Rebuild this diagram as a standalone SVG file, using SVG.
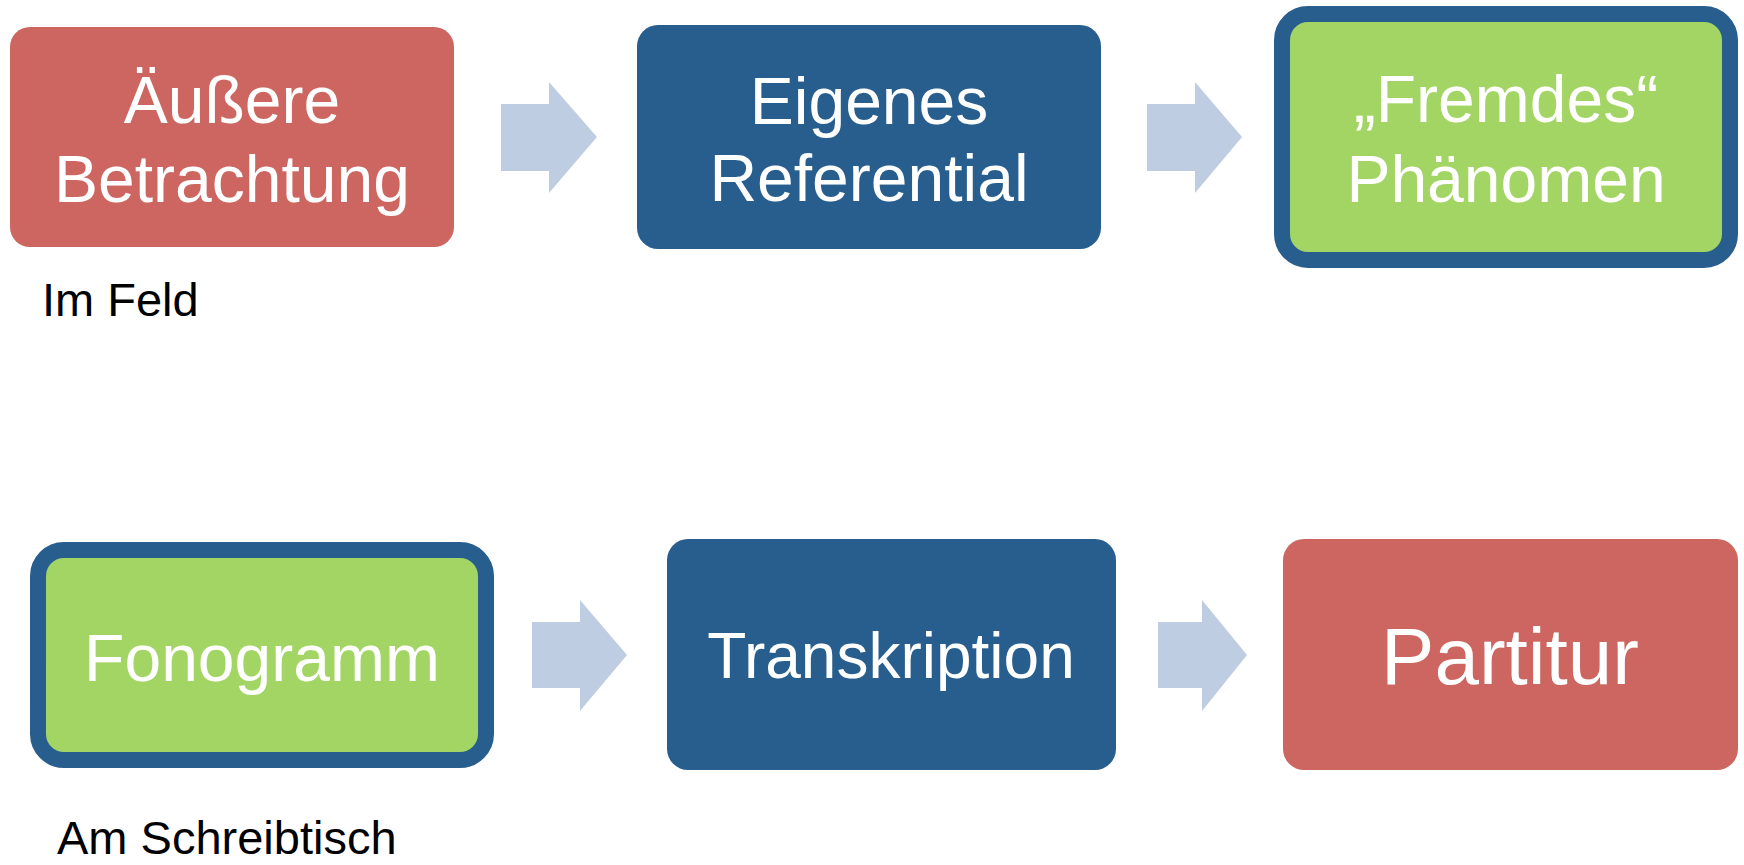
<svg xmlns="http://www.w3.org/2000/svg" width="1744" height="865" viewBox="0 0 1744 865">
<style>
.red{fill:#CD6660}
.blue{fill:#285E8E}
.green{fill:#A2D564;stroke:#285E8E;stroke-width:16}
.arrow{fill:#BECDE2}
text{font-family:"Liberation Sans",Arial,sans-serif}
.t{fill:#FFFFFF;font-size:66px;text-anchor:middle}
.lbl{fill:#000000;font-size:47px}
</style>
<rect width="1744" height="865" fill="#FFFFFF"/>
<g id="connectors">
<polygon class="arrow" points="501,104 549,104 549,82 597,137 549,193 549,171 501,171"/>
<polygon class="arrow" points="1147,104 1195,104 1195,82 1242,137 1195,193 1195,171 1147,171"/>
<polygon class="arrow" points="532,622 580,622 580,600 627,655 580,711 580,688 532,688"/>
<polygon class="arrow" points="1158,622 1202,622 1202,600 1247,655 1202,711 1202,688 1158,688"/>
</g>
<g id="node-aeussere">
<rect class="red" x="10" y="27" width="444" height="220" rx="20"/>
<text class="t" x="232" y="123">Äußere</text>
<text class="t" x="232" y="202">Betrachtung</text>
</g>
<g id="node-eigenes">
<rect class="blue" x="637" y="25" width="464" height="224" rx="21"/>
<text class="t" x="869" y="124">Eigenes</text>
<text class="t" x="869" y="201">Referential</text>
</g>
<g id="node-fremdes">
<rect class="green" x="1282" y="14" width="448" height="246" rx="26"/>
<text class="t" x="1506" y="122">„Fremdes“</text>
<text class="t" x="1506" y="202">Phänomen</text>
</g>
<g id="node-fonogramm">
<rect class="green" x="38" y="550" width="448" height="210" rx="26"/>
<text class="t" x="262" y="681">Fonogramm</text>
</g>
<g id="node-transkription">
<rect class="blue" x="667" y="539" width="449" height="231" rx="21"/>
<text class="t" x="891" y="678" style="font-size:64px">Transkription</text>
</g>
<g id="node-partitur">
<rect class="red" x="1283" y="539" width="455" height="231" rx="21"/>
<text class="t" x="1510" y="684" style="font-size:80px">Partitur</text>
</g>
<g id="label-im-feld">
<text class="lbl" x="42" y="316">Im Feld</text>
</g>
<g id="label-am-schreibtisch">
<text class="lbl" x="57" y="854">Am Schreibtisch</text>
</g>
</svg>
